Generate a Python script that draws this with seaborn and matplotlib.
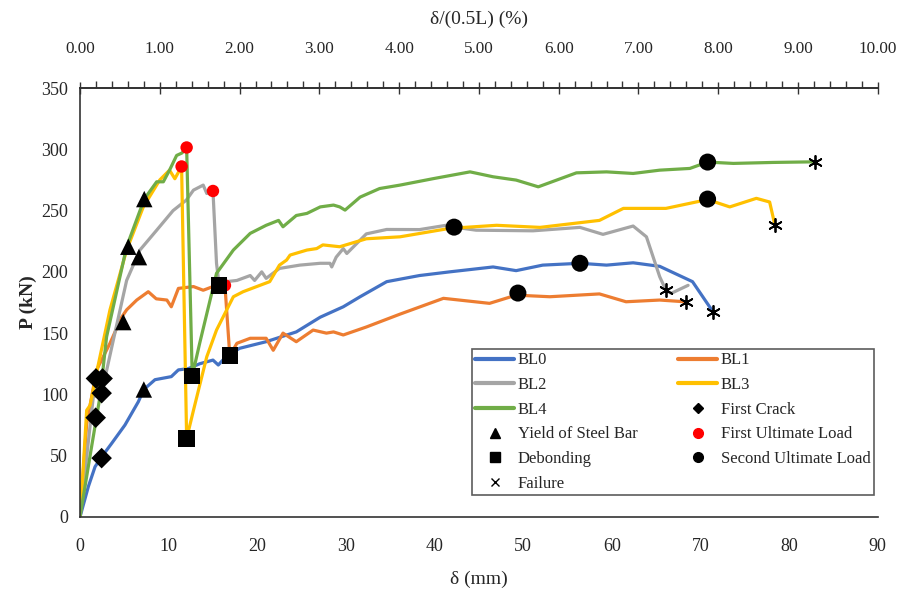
import numpy as np
import pandas as pd
import seaborn as sns
import matplotlib.pyplot as plt
from matplotlib.lines import Line2D
from matplotlib.ticker import MultipleLocator, FixedLocator, FormatStrFormatter

# load-deflection curves, delta (mm) vs P (kN)
bl0_x = [0, 0.94, 1.7, 2.44, 3.57, 5.07, 6.58, 7.2, 8.46, 10.3, 11.1, 12.2, 13.5, 15.0, 15.6, 16.5,
         18.0, 21.0, 24.4, 27.1, 29.7, 31.6, 34.6, 38.3, 41.7, 46.6, 49.2, 52.2, 56.4, 59.4, 62.4,
         65.4, 69.1, 71.4]
bl0_y = [0, 24.7, 41, 49, 60, 75, 94, 104, 112, 114.5, 120, 121, 125, 128, 124, 131,
         137.6, 143, 151, 163, 171.5, 179.7, 192, 197, 200, 204, 201, 205.5, 207, 205.5, 207.4,
         204.5, 192, 167.5]

bl1_x = [0, 0.75, 1.88, 3.38, 4.7, 5.26, 6.4, 7.7, 8.6, 9.8, 10.3, 11.1, 12.8, 13.9, 15.0, 16.35,
         16.9, 17.7, 19.2, 21.0, 21.8, 22.9, 24.4, 26.3, 27.8, 28.6, 29.7, 32.3, 36.1, 41.0,
         46.2, 49.2, 53.0, 58.6, 61.6, 65.4, 68.2]
bl1_y = [0, 76, 120, 141.7, 163, 169, 177, 183.8, 178, 177, 171.5, 186.5, 188, 185, 188, 189,
         131.6, 141.7, 145.8, 145.8, 136, 150, 143, 152.5, 150, 151, 148.5, 155, 165.5, 178.4,
         174.3, 181, 179.7, 182, 175.6, 177, 175.6]

bl2_x = [0, 1.5, 2.44, 3.75, 5.26, 6.76, 8.65, 10.5, 12.0, 12.8, 13.9, 14.3, 15.0, 15.4, 15.7,
         16.5, 17.7, 19.2, 19.7, 20.5, 21.0, 22.5, 24.8, 27.1, 28.2, 28.4, 28.9, 29.7, 30.1,
         32.3, 34.6, 38.3, 41.3, 42.2, 44.7, 51.1, 56.4, 59.0, 62.4, 63.9, 65.4, 66.1, 66.7, 68.6]
bl2_y = [0, 98, 101, 144, 193, 217.8, 234, 250, 258.6, 266.7, 270.8, 264, 266, 207, 189,
         192, 193, 197, 193, 200, 194.7, 202.8, 205.5, 207, 207, 204, 212, 219, 215,
         231, 234.6, 234.5, 238, 236.5, 234, 233.5, 236.3, 230.6, 237.4, 228.6, 196, 185, 182.5, 189]

bl3_x = [0, 0.19, 0.75, 1.13, 1.5, 1.7, 3.38, 5.26, 7.14, 9.0, 10.1, 10.7, 11.46, 12.03, 12.8,
         14.3, 15.4, 17.3, 18.4, 20.3, 21.4, 22.5, 23.3, 23.7, 25.6, 26.7, 27.4, 29.3, 32.3,
         36.1, 41.7, 47.0, 51.9, 58.6, 61.3, 66.1, 70.8, 73.3, 76.3, 77.8, 78.4]
bl3_y = [0, 19, 87, 91, 103.6, 112, 169, 217.8, 253, 275, 283, 276, 286, 64, 87,
         130.7, 152.5, 179.7, 183.8, 189, 192, 205.5, 209.6, 213.7, 217.8, 219, 222, 220.5, 227,
         228.6, 235.5, 238, 236.3, 242, 251.8, 251.8, 259, 253, 260, 257, 238]

bl4_x = [0, 1.3, 2.25, 3.0, 5.26, 7.25, 8.65, 9.4, 10.1, 10.9, 11.5, 12.03, 12.66, 13.5, 15.4,
         17.3, 19.2, 21.0, 22.4, 22.9, 24.4, 25.6, 27.1, 28.6, 29.3, 29.9, 31.6, 33.8, 36.1,
         39.8, 44.0, 46.6, 49.2, 51.7, 56.0, 59.4, 62.4, 65.4, 68.8, 70.8, 73.7, 78.2, 82.9]
bl4_y = [0, 57, 98, 147, 220.5, 259.4, 273.5, 273.5, 283, 295, 297, 301.5, 115, 141.7, 198.8,
         217.8, 231.4, 238, 242, 236.8, 246, 247.7, 253, 254.5, 253, 250.4, 261, 268, 270.8,
         276, 281.6, 277.6, 274.9, 269.4, 280.8, 281.6, 280.3, 283, 284.4, 289.6, 288.5, 289.3, 289.8]

names = ["BL0", "BL1", "BL2", "BL3", "BL4"]
colors = ["#4472C4", "#ED7D31", "#A5A5A5", "#FFC000", "#70AD47"]

# event markers
crack_x = [1.8, 2.55, 2.44, 1.77, 2.44]
crack_y = [113, 113, 101, 81, 48]
yield_x = [7.2, 4.88, 6.65, 5.45, 7.25]
yield_y = [104, 159, 212, 220.5, 259.4]
first_ult_x = [16.35, 15.0, 11.46, 12.03]
first_ult_y = [189, 266, 286, 301.5]
debond_x = [16.9, 15.7, 12.03, 12.66]
debond_y = [131.6, 189, 64, 115]
second_ult_x = [56.4, 49.4, 42.2, 70.8, 70.8]
second_ult_y = [207, 182.7, 236.5, 259.4, 289.6]
failure_x = [71.4, 68.4, 66.1, 78.4, 82.9]
failure_y = [167.5, 175.6, 185, 238, 289.8]

# top axis ticks, delta/(0.5L) in %
pct_ticks = [0, 1, 2, 3, 4, 5, 6, 7, 8, 9, 10]

sns.set_theme(style="white")
plt.rcParams["font.family"] = ["Liberation Serif", "DejaVu Serif"]

fig = plt.figure(figsize=(9.04, 5.99), dpi=100)
ax = fig.add_axes([0.0885, 0.137, 0.8825, 0.716])

curves = [(bl0_x, bl0_y), (bl1_x, bl1_y), (bl2_x, bl2_y), (bl3_x, bl3_y), (bl4_x, bl4_y)]
for (cx, cy), name, col in zip(curves, names, colors):
    df = pd.DataFrame({"d": cx, "P": cy})
    sns.lineplot(data=df, x="d", y="P", ax=ax, color=col, lw=2.3, sort=False,
                 estimator=None, label=name, legend=False)

mk = dict(ax=ax, color="black", edgecolor="none", legend=False, zorder=5)
sns.scatterplot(x=crack_x, y=crack_y, marker="D", s=110, **mk)
sns.scatterplot(x=yield_x, y=yield_y, marker="^", s=140, **mk)
sns.scatterplot(x=first_ult_x, y=first_ult_y, marker="o", s=80, ax=ax, color="#FF0000",
                edgecolor="none", legend=False, zorder=4)
sns.scatterplot(x=debond_x, y=debond_y, marker="s", s=140, **mk)
sns.scatterplot(x=second_ult_x, y=second_ult_y, marker="o", s=150, **mk)
ax.scatter(failure_x, failure_y, marker=(6, 2, 0), s=90, color="black", lw=1.3, zorder=5)

ax.set_xlim(0, 90)
ax.set_ylim(0, 350)
ax.xaxis.set_major_locator(MultipleLocator(10))
ax.xaxis.set_minor_locator(MultipleLocator(2))
ax.yaxis.set_major_locator(MultipleLocator(50))
ax.yaxis.set_minor_locator(MultipleLocator(10))
ax.tick_params(which="major", direction="inout", length=9, width=1, color="#333333",
               labelsize=13, pad=11)
ax.tick_params(which="minor", direction="in", length=5, width=1, color="#333333")
ax.tick_params(axis="y", which="major", pad=4)
for s in ["left", "bottom", "top"]:
    ax.spines[s].set_color("#333333")
    ax.spines[s].set_linewidth(1.2)
ax.spines["right"].set_visible(False)

ax.set_xlabel("δ (mm)", fontsize=14, labelpad=11)
ax.set_ylabel("P (kN)", fontsize=14, fontweight="bold", labelpad=3)

top = ax.secondary_xaxis("top", functions=(lambda v: v / 9.0, lambda v: v * 9.0))
top.xaxis.set_major_locator(FixedLocator(pct_ticks))
top.xaxis.set_minor_locator(FixedLocator([t / 5 for t in range(51)]))
top.xaxis.set_major_formatter(FormatStrFormatter("%.2f"))
top.tick_params(which="major", direction="inout", length=9, width=1, color="#333333",
                labelsize=12.3, pad=18)
top.tick_params(which="minor", direction="out", length=5, width=1, color="#333333")
top.set_xlabel("δ/(0.5L) (%)", fontsize=14, labelpad=12)

def line_h(c):
    return Line2D([], [], color=c, lw=3)

def mark_h(m, c="black", ms=7):
    return Line2D([], [], ls="none", marker=m, color=c, markersize=ms, markeredgewidth=1)

handles = [line_h(colors[0]), line_h(colors[2]), line_h(colors[4]),
           mark_h("^"), mark_h("s"), mark_h("x", ms=6),
           line_h(colors[1]), line_h(colors[3]), mark_h("D", ms=5),
           mark_h("o", "#FF0000"), mark_h("o")]
labels = ["BL0", "BL2", "BL4", "Yield of Steel Bar", "Debonding", "Failure",
          "BL1", "BL3", "First Crack", "First Ultimate Load", "Second Ultimate Load"]
leg = ax.legend(handles, labels, ncol=2, loc="lower right", bbox_to_anchor=(0.995, 0.051),
                borderaxespad=0, fontsize=12, frameon=True, fancybox=False,
                edgecolor="#333333", handlelength=2.35, handletextpad=0.2,
                columnspacing=2.45, labelspacing=0.52, borderpad=0.2)
leg.get_frame().set_linewidth(1.2)

fig.savefig("out.png", dpi=100)
